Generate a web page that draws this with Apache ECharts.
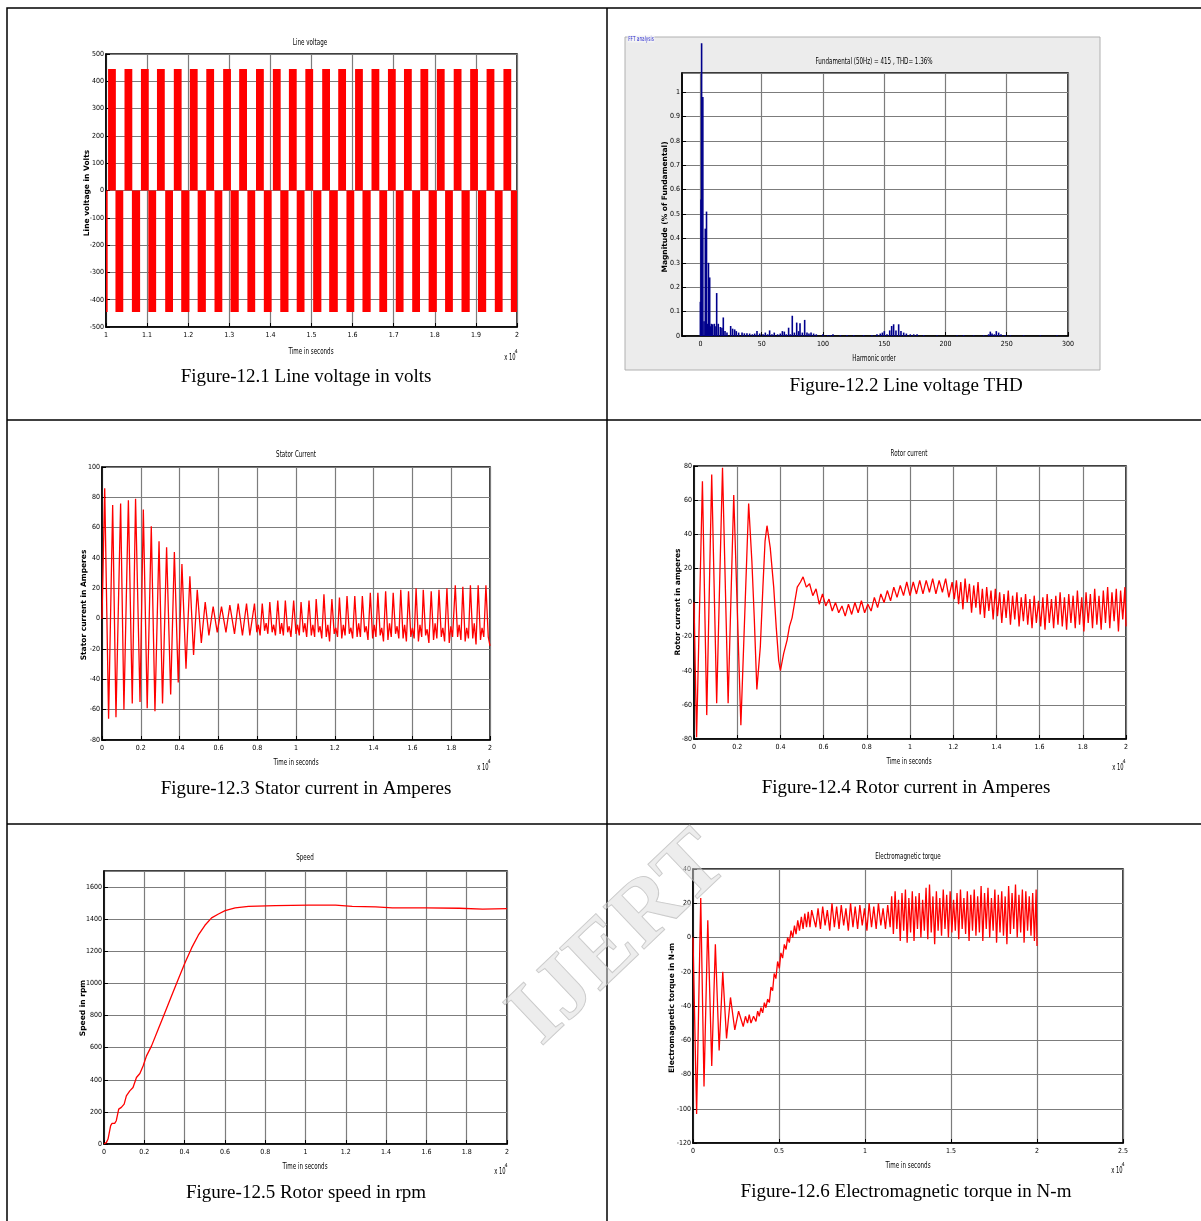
<!DOCTYPE html>
<html>
<head>
<meta charset="utf-8">
<script src="https://cdn.jsdelivr.net/npm/echarts@6/dist/echarts.min.js"></script>
<style>
html, body { margin: 0; padding: 0; background: #fff; }
#chart { width: 1201px; height: 1221px; }
</style>
</head>
<body>
<div id="chart"></div>
<script>
// ---- Fig 12.1 line voltage: PWM blocks, times in x10^4 s ----
const voltLevel = 445
const posStart = [1.005,1.045,1.085,1.124,1.165,1.204,1.244,1.285,1.324,1.365,1.406,1.445,1.485,1.526,1.565,1.606,1.646,1.686,1.725,1.765,1.805,1.846,1.886,1.926,1.967]
const posEnd   = [1.024,1.064,1.104,1.143,1.184,1.223,1.263,1.304,1.343,1.384,1.425,1.464,1.504,1.545,1.584,1.625,1.665,1.705,1.744,1.784,1.824,1.865,1.905,1.945,1.986]
const negStart = [1.000,1.023,1.063,1.103,1.144,1.183,1.223,1.264,1.303,1.344,1.384,1.424,1.464,1.504,1.543,1.585,1.624,1.665,1.705,1.745,1.785,1.825,1.865,1.905,1.946,1.985]
const negEnd   = [1.004,1.042,1.083,1.122,1.163,1.203,1.243,1.283,1.323,1.363,1.403,1.444,1.483,1.524,1.564,1.604,1.644,1.684,1.724,1.764,1.805,1.844,1.885,1.925,1.965,2.000]

// ---- Fig 12.2 FFT: [harmonic order, magnitude] ----
const fftBars = [[0,0.14],[0.5,0.56],[1,1.2],[2,0.98],[3,0.06],[4,0.44],[5,0.51],[6,0.05],[6.6,0.30],[7.6,0.24],[8.5,0.04],[9,0.05],[10,0.048],[11.4,0.05],[12,0.04],[13.3,0.176],[14.6,0.05],[16.3,0.037],[17.6,0.034],[18.7,0.076],[20.1,0.02],[21.7,0.014],[24.7,0.041],[26.3,0.03],[28,0.027],[29.3,0.02],[31.2,0.014],[34,0.014],[35.9,0.011],[38,0.011],[40.2,0.01],[42.4,0.007],[44.3,0.01],[46.2,0.02],[48.4,0.01],[51.1,0.007],[53,0.014],[54.9,0.007],[56.5,0.023],[58.4,0.007],[60.3,0.014],[63,0.007],[65.2,0.01],[66.9,0.02],[68.5,0.018],[70.1,0.007],[72,0.034],[73.4,0.007],[75,0.083],[76.7,0.014],[78.6,0.055],[80.2,0.02],[81.3,0.052],[83.2,0.014],[85.1,0.066],[87,0.014],[88.6,0.01],[90.3,0.014],[92.4,0.01],[94.6,0.007],[100,0.007],[103.9,0.004],[106,0.004],[108.2,0.007],[114.2,0.004],[119.6,0.004],[125.1,0.004],[133.2,0.004],[140,0.004],[144.1,0.007],[146.8,0.01],[148.5,0.014],[150.1,0.02],[152.3,0.007],[154.5,0.023],[156.1,0.041],[157.7,0.048],[159.6,0.023],[161.8,0.048],[163.7,0.02],[165.9,0.014],[168.1,0.01],[171.3,0.007],[174.1,0.007],[176.8,0.007],[182.2,0.004],[193.1,0.003],[209.4,0.003],[214.8,0.004],[223,0.003],[231.2,0.004],[235.2,0.007],[236.6,0.018],[238,0.01],[239.9,0.007],[241.5,0.02],[243.4,0.014],[245.3,0.007],[248.8,0.004],[252.9,0.003],[263.8,0.003],[277.4,0.003],[291,0.003]]

// ---- Fig 12.3 stator current [t, A] ----
const statorCurrent = [[0,0],[0.014,86],[0.034,-66],[0.055,75],[0.072,-65],[0.096,76],[0.113,-60],[0.136,78],[0.156,-56],[0.173,79],[0.196,-55],[0.213,72],[0.233,-59],[0.254,61],[0.273,-61],[0.294,51],[0.312,-56],[0.333,47],[0.354,-50],[0.373,44],[0.393,-42],[0.412,36],[0.433,-33],[0.453,28],[0.472,-24],[0.491,19],[0.512,-16],[0.532,11],[0.551,-11],[0.573,8],[0.594,-9],[0.616,8],[0.639,-9],[0.659,9],[0.683,-10],[0.702,10],[0.724,-11],[0.745,10],[0.762,-11],
[0.786,10],[0.798,-9],[0.806,-4],[0.815,-11],[0.826,10],[0.838,-8],[0.846,-3],[0.855,-10],[0.865,11],[0.877,-9],[0.885,-4],[0.894,-11],[0.906,12],[0.918,-10],[0.926,-3],[0.935,-11],[0.945,12],[0.957,-9],[0.965,-5],[0.974,-12],[0.988,12],[1.000,-10],[1.008,-4],[1.017,-11],
[1.026,11],[1.038,-9],[1.046,-3],[1.055,-12],[1.067,12],[1.079,-11],[1.087,-4],[1.096,-12],[1.104,13],[1.116,-9],[1.124,-5],[1.133,-13],[1.144,16],[1.156,-12],[1.164,-4],[1.173,-15],[1.185,13],[1.197,-10],[1.205,-6],[1.214,-12],
[1.224,14],[1.236,-13],[1.244,-4],[1.253,-11],[1.263,15],[1.275,-10],[1.283,-6],[1.292,-13],[1.303,15],[1.315,-12],[1.323,-3],[1.332,-12],[1.342,15],[1.354,-9],[1.362,-5],[1.371,-14],[1.383,17],[1.395,-13],[1.403,-4],[1.412,-12],
[1.422,17],[1.434,-11],[1.442,-6],[1.451,-15],[1.462,18],[1.474,-14],[1.482,-3],[1.491,-12],[1.501,17],[1.513,-10],[1.521,-5],[1.530,-13],[1.540,19],[1.552,-13],[1.560,-4],[1.569,-15],[1.580,18],[1.592,-12],[1.600,-6],[1.609,-13],
[1.619,20],[1.631,-15],[1.639,-4],[1.648,-12],[1.656,19],[1.668,-11],[1.676,-7],[1.685,-16],[1.697,18],[1.709,-14],[1.717,-3],[1.726,-13],[1.737,19],[1.749,-12],[1.757,-6],[1.766,-15],[1.778,20],[1.790,-16],[1.798,-5],[1.807,-12],
[1.821,22],[1.833,-12],[1.841,-4],[1.850,-14],[1.860,21],[1.872,-15],[1.880,-6],[1.889,-13],[1.899,22],[1.911,-13],[1.919,-3],[1.928,-17],[1.939,22],[1.951,-14],[1.959,-6],[1.968,-12],[1.979,22],[1.991,-12],[2.000,-18]]

// ---- Fig 12.4 rotor current [t, A] ----
const rotorCurrent = [[0,0],[0.012,-79],[0.039,71],[0.059,-66],[0.082,75],[0.105,-59],[0.132,79],[0.158,-59],[0.184,63],[0.217,-72],[0.253,58],[0.268,24],[0.279,-9],[0.291,-51],[0.307,-26],[0.319,9],[0.329,36],[0.338,45],[0.353,32],[0.369,9],[0.381,-15],[0.392,-34],[0.400,-40],[0.415,-30],[0.431,-22],[0.442,-14],[0.454,-9],[0.466,0],[0.478,9],[0.493,12],
[0.505,15],[0.520,9],[0.535,11],[0.550,4],[0.565,8],[0.580,-1],[0.595,5],[0.610,-2],[0.625,2],[0.640,-5],[0.655,0],[0.670,-6],[0.685,-2],[0.700,-8],[0.715,-1],[0.730,-7],[0.745,0],[0.760,-6],[0.775,1],[0.790,-6],[0.805,-1],[0.820,-5],[0.835,3],[0.850,-3],[0.865,5],[0.880,0],[0.895,7],[0.910,1],[0.925,9],[0.940,3],[0.955,10],[0.970,4],[0.985,12],[1.000,4],[1.015,12],[1.030,5],[1.045,13],[1.060,5],[1.075,13],[1.090,6],[1.105,14],[1.120,5],[1.135,13],[1.150,6],[1.165,14],[1.180,3],[1.195,12],
[1.205,2],[1.215,13],[1.225,-1],[1.235,12],[1.245,-4],[1.255,14],[1.265,0],[1.275,11],[1.285,-6],[1.295,10],[1.305,-3],[1.315,12],[1.325,-7],[1.335,8],[1.345,-9],[1.355,9],[1.365,-5],[1.375,7],[1.385,-10],[1.395,8],[1.405,-8],[1.415,6],[1.425,-12],[1.435,5],[1.445,-9],[1.455,7],[1.465,-13],[1.475,4],[1.485,-10],[1.495,6],
[1.505,-14],[1.515,3],[1.525,-11],[1.535,5],[1.545,-13],[1.555,2],[1.565,-15],[1.575,4],[1.585,-12],[1.595,1],[1.605,-14],[1.615,3],[1.625,-16],[1.635,5],[1.645,-12],[1.655,2],[1.665,-15],[1.675,4],[1.685,-13],[1.695,6],[1.705,-14],[1.715,3],[1.725,-16],[1.735,5],[1.745,-12],[1.755,4],[1.765,-15],[1.775,7],[1.785,-13],[1.795,3],
[1.805,-17],[1.815,6],[1.825,-12],[1.835,5],[1.845,-15],[1.855,8],[1.865,-13],[1.875,4],[1.885,-16],[1.895,7],[1.905,-12],[1.915,9],[1.925,-15],[1.935,6],[1.945,-11],[1.955,8],[1.965,-17],[1.975,7],[1.985,-10],[1.995,9],[2.000,-14]]

// ---- Fig 12.5 rotor speed [t, rpm] ----
const rotorSpeed = [[0,0],[0.012,10],[0.02,31],[0.033,114],[0.04,128],[0.053,128],[0.061,145],[0.073,217],[0.086,228],[0.1,248],[0.111,300],[0.128,331],[0.144,352],[0.161,414],[0.178,439],[0.194,486],[0.211,549],[0.236,611],[0.269,714],[0.302,818],[0.335,921],[0.368,1025],[0.402,1128],[0.435,1221],[0.468,1300],[0.501,1362],[0.534,1408],[0.568,1432],[0.601,1453],[0.651,1470],[0.717,1480],[0.85,1484],[1.016,1488],[1.149,1488],[1.232,1480],[1.348,1476],[1.431,1470],[1.597,1470],[1.763,1468],[1.879,1463],[2.0,1466]]

// ---- Fig 12.6 electromagnetic torque [t, N-m] ----
const emTorque = [[0,0],[0.021,-103],[0.045,23],[0.064,-87],[0.086,10],[0.109,-75],[0.130,-4],[0.152,-66],[0.173,-20],[0.195,-59],[0.218,-35],[0.243,-54],[0.265,-43],[0.292,-52],[0.305,-46],[0.317,-50],[0.327,-45],[0.337,-50],[0.352,-46],[0.366,-49],[0.376,-43],[0.385,-46],[0.395,-41],[0.405,-44],[0.415,-38],[0.424,-41],[0.434,-36],[0.444,-38],[0.453,-29],[0.463,-31],[0.472,-21],[0.482,-24],[0.492,-14],[0.502,-18],[0.511,-9],[0.521,-12],[0.531,-4],[0.541,-7],[0.550,0],[0.560,-3],[0.570,4],[0.580,0],[0.590,7],[0.599,2],[0.609,10],[0.619,4],[0.630,12],[0.640,5],[0.650,14],[0.660,6],[0.670,15],[0.680,6],[0.690,16],
[0.700,16],[0.714,6],[0.727,17],[0.741,5],[0.754,18],[0.768,7],[0.781,16],[0.795,4],[0.808,20],[0.822,6],[0.835,18],[0.849,5],[0.862,19],[0.876,7],[0.889,17],[0.903,4],[0.916,20],[0.930,6],[0.943,18],[0.957,5],[0.970,19],[0.984,7],[0.997,17],[1.011,4],[1.024,20],[1.038,6],[1.051,18],[1.065,5],[1.078,20],[1.092,7],[1.105,17],[1.119,5],[1.132,19],[1.146,6],
[1.155,24],[1.165,2],[1.175,27],[1.185,5],[1.195,22],[1.205,-2],[1.215,26],[1.225,4],[1.235,28],[1.245,-3],[1.255,23],[1.265,3],[1.275,27],[1.285,-2],[1.295,24],[1.305,5],[1.315,26],[1.325,0],[1.335,22],[1.345,4],[1.355,29],[1.365,-1],[1.375,31],[1.385,3],[1.395,24],[1.405,-4],[1.415,27],[1.425,4],[1.435,23],[1.445,1],[1.455,28],[1.465,5],[1.475,25],[1.485,0],[1.495,27],
[1.505,3],[1.515,22],[1.525,4],[1.535,26],[1.545,-1],[1.555,28],[1.565,5],[1.575,23],[1.585,2],[1.595,27],[1.605,-2],[1.615,25],[1.625,4],[1.635,28],[1.645,1],[1.655,24],[1.665,3],[1.675,30],[1.685,-2],[1.695,26],[1.705,5],[1.715,29],[1.725,0],[1.735,23],[1.745,4],[1.755,28],[1.765,-3],[1.775,25],[1.785,3],[1.795,27],
[1.805,1],[1.815,24],[1.825,-4],[1.835,30],[1.845,2],[1.855,26],[1.865,5],[1.875,31],[1.885,0],[1.895,25],[1.905,3],[1.915,28],[1.925,-3],[1.935,27],[1.945,4],[1.955,24],[1.965,1],[1.975,26],[1.985,-2],[1.995,28],[2.000,-5]]

// axis ranges / tick steps for the six panels
const xRanges = [[1, 2, 0.1], [-15, 300, 50], [0, 2, 0.2], [0, 2, 0.2], [0, 2, 0.2], [0, 2.5, 0.5]]
const yRanges = [[-500, 500, 100], [0, 1.078, 0.1], [-80, 100, 20], [-80, 80, 20], [0, 1700, 200], [-120, 40, 20]]
const fftTicks = [0, 50, 100, 150, 200, 250, 300]

// plot boxes [left, top, width, height]
const boxes = [[106, 54, 411, 273], [682, 73, 386, 263], [102, 467, 388, 273], [694, 466, 432, 273], [104, 871, 403, 273], [693, 869, 430, 274]]

const tickFont = "'DejaVu Sans Condensed', 'Liberation Sans Narrow', 'DejaVu Sans', sans-serif"
const serif = "'Liberation Serif', 'Times New Roman', serif"
const RED = '#ff0000'

const chart = echarts.init(document.getElementById('chart'))

const grids = boxes.map(b => ({
    left: b[0], top: b[1], width: b[2], height: b[3],
    show: true, backgroundColor: '#fff', borderColor: '#000', borderWidth: 1.5
}))

function axisCommon(i) {
    return {
        gridIndex: i,
        type: 'value',
        axisLine: { show: true, onZero: false, lineStyle: { color: '#000', width: 1.5 } },
        axisTick: { show: true, inside: true, length: 4, lineStyle: { color: '#000' } },
        splitLine: { show: true, lineStyle: { color: '#7c7c7c', width: 1.2 } },
        axisLabel: { color: '#000', fontFamily: tickFont, fontSize: 7, margin: 4, formatter: v => String(+v.toFixed(3)) }
    }
}

const xAxes = xRanges.map((r, i) => {
    const ax = axisCommon(i)
    ax.min = r[0]; ax.max = r[1]
    if (i === 1) {
        ax.axisTick.customValues = fftTicks
        ax.axisLabel.customValues = fftTicks
    } else {
        ax.interval = r[2]
    }
    ax.axisLabel.margin = 5
    return ax
})

const yAxes = yRanges.map((r, i) => {
    const ax = axisCommon(i)
    ax.min = r[0]; ax.max = r[1]; ax.interval = r[2]
    ax.axisLabel.showMaxLabel = !(i === 1 || i === 4)
    ax.axisLabel.margin = 2
    return ax
})

// pulses -> [start, end, level]
const voltPulses = []
posStart.forEach((s, k) => voltPulses.push([s, posEnd[k], voltLevel]))
negStart.forEach((s, k) => voltPulses.push([s, negEnd[k], -voltLevel]))

function lineSeries(i, data) {
    return {
        type: 'line', xAxisIndex: i, yAxisIndex: i, data: data,
        symbol: 'none', lineStyle: { color: RED, width: 1.3 }, itemStyle: { color: RED },
        clip: true
    }
}

const series = [
    {
        type: 'custom', xAxisIndex: 0, yAxisIndex: 0, data: voltPulses,
        encode: { x: [0, 1], y: 2 }, clip: true,
        renderItem(params, api) {
            const a = api.coord([api.value(0), api.value(2)])
            const b = api.coord([api.value(1), 0])
            return {
                type: 'rect',
                shape: { x: a[0], y: Math.min(a[1], b[1]), width: b[0] - a[0], height: Math.abs(b[1] - a[1]) },
                style: { fill: RED }
            }
        }
    },
    {
        type: 'bar', xAxisIndex: 1, yAxisIndex: 1, data: fftBars,
        barWidth: 1.6, clip: false, itemStyle: { color: '#00008c' }
    },
    lineSeries(2, statorCurrent),
    lineSeries(3, rotorCurrent),
    lineSeries(4, rotorSpeed),
    lineSeries(5, emTorque)
]

// text helpers
function txt(x, y, text, font, extra, sx) {
    return {
        type: 'text', x: x, y: y, z: 10, scaleX: sx || 1,
        style: Object.assign({ text: text, font: font, fill: '#000', align: 'center', verticalAlign: 'middle' }, extra || {})
    }
}
const titleFont = "9px 'DejaVu Sans', sans-serif"
const yNameFont = "bold 7.5px 'DejaVu Sans', sans-serif"
const capFont = "19px " + serif

const titles = ['Line voltage', 'Fundamental (50Hz) = 415 , THD= 1.36%', 'Stator Current', 'Rotor current', 'Speed', 'Electromagnetic torque']
const titlePos = [[310, 43], [874, 62], [296, 455], [909, 454], [305, 858], [908, 857]]
const xNames = ['Time in seconds', 'Harmonic order', 'Time in seconds', 'Time in seconds', 'Time in seconds', 'Time in seconds']
const xNamePos = [[311, 352], [874, 359], [296, 763], [909, 762], [305, 1167], [908, 1166]]
const yNames = ['Line voltage in Volts', 'Magnitude (% of Fundamental)', 'Stator current in Amperes', 'Rotor current in amperes', 'Speed in rpm', 'Electromagnetic torque in N-m']
const yNamePos = [[87, 193], [665, 207], [84, 605], [678, 602], [83, 1008], [672, 1008]]
const captions = ['Figure-12.1 Line voltage in volts', 'Figure-12.2 Line voltage THD', 'Figure-12.3 Stator current in Amperes', 'Figure-12.4 Rotor current in Amperes', 'Figure-12.5 Rotor speed in rpm', 'Figure-12.6 Electromagnetic torque in N-m']
const capPos = [[306, 377], [906, 386], [306, 789], [906, 788], [306, 1193], [906, 1192]]
const expPos = [[510, 358], null, [483, 768], [1118, 768], [500, 1172], [1117, 1171]]

const graphics = [
    // FFT window background
    { type: 'rect', z: -10, shape: { x: 625, y: 37, width: 475, height: 333 }, style: { fill: '#ececec', stroke: '#b0b0b0', lineWidth: 1 } },
    txt(641, 39, 'FFT analysis', "7px 'DejaVu Sans', sans-serif", { fill: '#2a2ad0', backgroundColor: '#f4f4f4', padding: [0, 1] }, 0.6),
    // table rules
    { type: 'rect', z: 20, shape: { x: 7, y: 8, width: 1196, height: 1215 }, style: { fill: null, stroke: '#000', lineWidth: 1.5 } },
    { type: 'line', z: 20, shape: { x1: 607, y1: 8, x2: 607, y2: 1221 }, style: { stroke: '#000', lineWidth: 1.5 } },
    { type: 'line', z: 20, shape: { x1: 7, y1: 420, x2: 1201, y2: 420 }, style: { stroke: '#000', lineWidth: 1.5 } },
    { type: 'line', z: 20, shape: { x1: 7, y1: 824, x2: 1201, y2: 824 }, style: { stroke: '#000', lineWidth: 1.5 } }
]
for (let i = 0; i < 6; i++) {
    graphics.push(txt(titlePos[i][0], titlePos[i][1], titles[i], titleFont, null, 0.62))
    graphics.push(txt(xNamePos[i][0], xNamePos[i][1], xNames[i], titleFont, null, 0.62))
    const yn = txt(yNamePos[i][0], yNamePos[i][1], yNames[i], yNameFont)
    yn.rotation = Math.PI / 2
    graphics.push(yn)
    graphics.push(txt(capPos[i][0], capPos[i][1], captions[i], capFont))
    if (expPos[i]) {
        graphics.push(txt(expPos[i][0], expPos[i][1], 'x 10', "8px 'DejaVu Sans', sans-serif", null, 0.65))
        graphics.push(txt(expPos[i][0] + 6, expPos[i][1] - 6, '4', "5px 'DejaVu Sans', sans-serif"))
    }
}
// IJERT watermark
graphics.push({
    type: 'text', x: 620, y: 940, z: 50, rotation: 0.76,
    style: { text: 'IJERT', font: "bold 90px " + serif, fill: 'rgba(220,220,220,0.5)', stroke: 'rgba(175,175,175,0.7)', lineWidth: 1, align: 'center', verticalAlign: 'middle' }
})

chart.setOption({
    animation: false,
    grid: grids,
    xAxis: xAxes,
    yAxis: yAxes,
    series: series,
    graphic: { elements: graphics }
})
</script>
</body>
</html>
